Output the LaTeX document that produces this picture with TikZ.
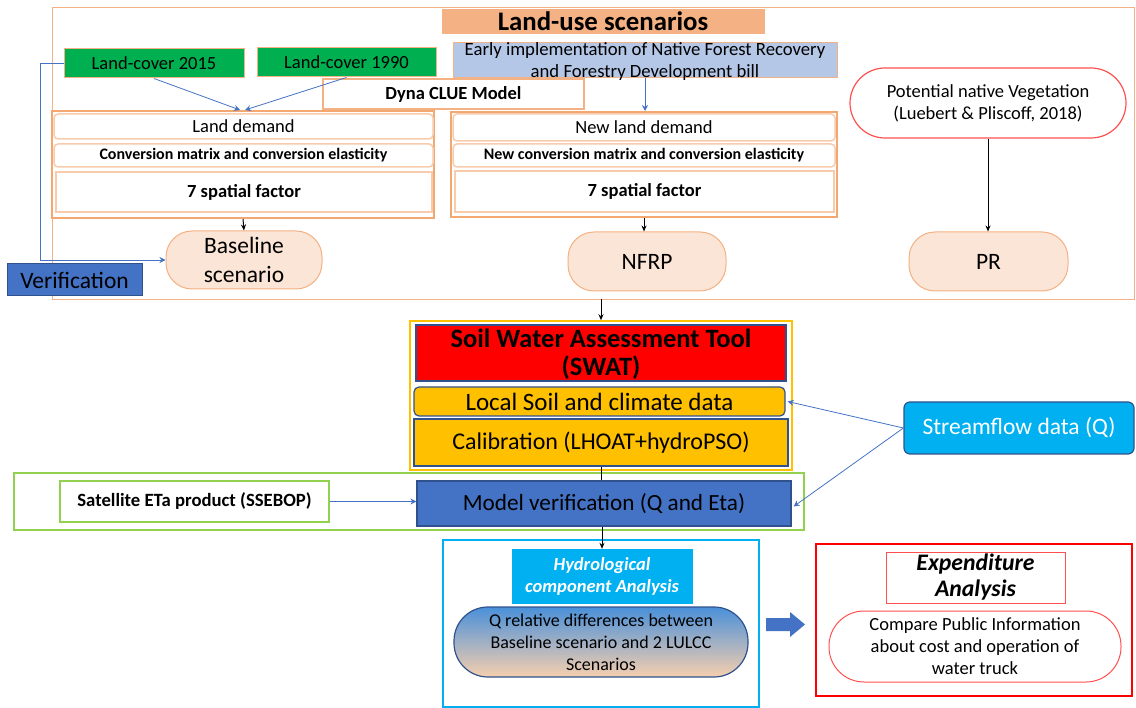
\documentclass[tikz,border=0pt]{standalone}
\usepackage{fontspec}
\setmainfont{Carlito}
\usetikzlibrary{arrows.meta,calc}
\definecolor{orL}{HTML}{F4B183}
\definecolor{orG}{HTML}{F4A871}
\definecolor{orXL}{HTML}{F8CBAD}
\definecolor{peach}{HTML}{FBE5D6}
\definecolor{grn}{HTML}{00B050}
\definecolor{ltblue}{HTML}{B4C7E7}
\definecolor{blu}{HTML}{4472C4}
\definecolor{dkblu}{HTML}{2F528F}
\definecolor{cyn}{HTML}{00B0F0}
\definecolor{gold}{HTML}{FFC000}
\definecolor{lime}{HTML}{92D050}
\definecolor{rd}{HTML}{FF0000}
\definecolor{redL}{HTML}{FF5050}
\definecolor{qtop}{HTML}{4A90D9}
\definecolor{qmid}{HTML}{8ECFE6}
\definecolor{qbot}{HTML}{F6CFAE}
\newcommand\fz[2]{\fontsize{#1}{#2}\selectfont}
\begin{document}
\begin{tikzpicture}[x=1pt,y=-1pt,
  bx/.style={draw, inner sep=0pt, align=center},
  grpbox/.style={bx, draw=orG, line width=2pt},
  inbox/.style={bx, draw=orXL, line width=1.5pt, rounded corners=4pt, fill=white},
  scen/.style={bx, draw=orL, line width=1pt, fill=peach, rounded corners=26pt, font=\fz{23.5}{29}},
  lcbox/.style={bx, draw=orL, line width=1pt, fill=grn, font=\fz{18.5}{22}},
  blarr/.style={draw=blu, line width=0.8pt, -{Stealth[length=6pt,width=6pt]}},
  bkarr/.style={draw=black, line width=1pt, -{Stealth[length=6pt,width=5pt]}},
  swbox/.style={bx, draw=dkblu, line width=1.2pt, fill=gold}
]
\useasboundingbox (0,0) rectangle (1136,708);

% ---------- top: land-use scenarios ----------
\node[bx, draw=orL, line width=0.8pt, minimum width=1082, minimum height=292] (outer) at (593,153) {};
\node[bx, draw=orL, fill=orL, minimum width=322, minimum height=24, font=\fz{26.8}{28}\bfseries] (title) at (603,21) {Land-use scenarios};

\node[lcbox, minimum width=180, minimum height=29] (lc15) at (154,63.5) {Land-cover 2015};
\node[lcbox, minimum width=179, minimum height=29] (lc90) at (346.5,62.5) {Land-cover 1990};
\node[bx, draw=orL, line width=1pt, fill=ltblue, minimum width=384, minimum height=35] (early) at (645,60.5) {};
\node[inner sep=0pt, align=center, font=\fz{18.7}{22}] (earlyT) at (645,62) {Early implementation of Native Forest Recovery\\and Forestry Development bill};
\node[bx, draw=orL, line width=1.5pt, fill=white, minimum width=261, minimum height=30, font=\fz{18.5}{22}\bfseries] (dyna) at (453.5,94) {Dyna CLUE Model};

\node[grpbox, minimum width=382, minimum height=107] (leftgrp) at (243,164.5) {};
\node[inbox, minimum width=379, minimum height=25, font=\fz{18.5}{22}] (ld) at (243.5,126.5) {Land demand};
\node[inbox, minimum width=379, minimum height=23, font=\fz{16}{18}\bfseries] (cm) at (243.5,155.5) {Conversion matrix and conversion elasticity};
\node[bx, draw=orXL, line width=1.5pt, fill=white, minimum width=376, minimum height=40, font=\fz{18.5}{22}\bfseries] (sf) at (244,192) {7 spatial factor};

\node[grpbox, minimum width=386, minimum height=105] (rightgrp) at (644,164.5) {};
\node[inbox, minimum width=382, minimum height=27, font=\fz{18.5}{22}] (nld) at (644,127.5) {New land demand};
\node[inbox, minimum width=382, minimum height=23, font=\fz{16}{18}\bfseries] (ncm) at (644,155.5) {New conversion matrix and conversion elasticity};
\node[bx, draw=orXL, line width=1.5pt, fill=white, minimum width=379, minimum height=41, font=\fz{18.5}{22}\bfseries] (nsf) at (644.5,191.5) {7 spatial factor};

\node[bx, draw=redL, line width=1.2pt, fill=white, rounded corners=35pt, minimum width=276, minimum height=70, font=\fz{18.5}{22}] (pnv) at (988,103) {Potential native Vegetation\\(Luebert \& Pliscoff, 2018)};

\node[scen, minimum width=156, minimum height=58] (base) at (244,260) {Baseline\\scenario};
\node[scen, minimum width=158, minimum height=59] (nfrp) at (647,261.5) {NFRP};
\node[scen, minimum width=159, minimum height=59] (pr) at (988.5,261.5) {PR};

\node[bx, draw=dkblu, line width=1pt, fill=blu, minimum width=135, minimum height=32, font=\fz{23.5}{28}] (verif) at (74.5,280) {Verification};

\draw[blarr] (lc15.south) -- ([xshift=-3pt]leftgrp.north);
\draw[blarr] (lc90.south) -- ([xshift=2pt]leftgrp.north);
\draw[blarr] (lc15.west) -- ++(-23,0) |- (base.west);
\draw[blarr] (early.south) -- (early.south |- rightgrp.north);
\draw[bkarr] (leftgrp.south) -- (base.north);
\draw[bkarr] (rightgrp.south) -- (rightgrp.south |- nfrp.north);
\draw[bkarr] (pnv.south) -- (pnv.south |- pr.north);

% ---------- middle: SWAT ----------
\node[bx, draw=gold, line width=1.5pt, minimum width=382, minimum height=149] (swatc) at (601,395.5) {};
\node[bx, draw=dkblu, line width=1.2pt, fill=rd, minimum width=370, minimum height=56] (swat) at (601,353) {};
\node[inner sep=0pt, align=center, font=\fz{26.5}{28}\bfseries] (swatT) at (601,354) {Soil Water Assessment Tool\\(SWAT)};
\node[swbox, rounded corners=5pt, minimum width=371, minimum height=29, font=\fz{25}{27}] (local) at (599.5,401.5) {Local Soil and climate data};
\node[swbox, minimum width=374, minimum height=47, font=\fz{24}{27}] (calib) at (601,442.5) {Calibration (LHOAT+hydroPSO)};

\node[bx, draw=dkblu, line width=1.2pt, fill=cyn, rounded corners=6pt, minimum width=230, minimum height=52, text=white, font=\fz{23.5}{27}] (stream) at (1019,428) {Streamflow data (Q)};

\node[bx, draw=lime, line width=1.5pt, minimum width=790, minimum height=57] (greenc) at (409,501.5) {};
\node[bx, draw=lime, line width=1.5pt, fill=white, minimum width=269, minimum height=41, font=\fz{18.7}{22}\bfseries] (sat) at (194.5,501.5) {Satellite ETa product (SSEBOP)};
\node[bx, draw=dkblu, line width=1.2pt, fill=blu, minimum width=374, minimum height=45, font=\fz{23.2}{27}] (mv) at (604,503.5) {Model verification (Q and Eta)};

\draw[bkarr] (swatc.north |- outer.south) -- (swatc.north);
\draw[black, line width=1pt] (calib.south) -- (calib.south |- mv.north);
\draw[blarr] (stream.west) -- ([xshift=2pt]local.east);
\draw[blarr] (stream.west) -- ([xshift=2pt,yshift=-3pt]mv.east);
\draw[blarr] (sat.east) -- (sat.east -| mv.west);

% ---------- bottom ----------
\node[bx, draw=cyn, line width=1.5pt, minimum width=316, minimum height=167] (hydc) at (601,623.5) {};
\node[bx, draw=cyn, fill=cyn, minimum width=180, minimum height=54, text=white, font=\fz{18.5}{22}\bfseries\itshape] (hyd) at (602,576) {Hydrological\\component Analysis};
\node[bx, draw=dkblu, line width=1.2pt, rounded corners=34pt, top color=qtop, middle color=qmid, bottom color=qbot, minimum width=294, minimum height=70, font=\fz{18}{22}] (qrel) at (601,642) {Q relative differences between\\Baseline scenario and 2 LULCC\\Scenarios};
\draw[bkarr] (hyd.north |- mv.south) -- (hyd.north);

\node[bx, draw=rd, line width=2pt, minimum width=316, minimum height=152] (redc) at (974,620) {};
\node[bx, draw=redL, line width=1pt, fill=white, minimum width=179, minimum height=51, font=\fz{23.7}{26}\bfseries\itshape] (expn) at (975.5,577.5) {Expenditure\\Analysis};
\node[bx, draw=redL, line width=1pt, fill=white, rounded corners=35pt, minimum width=292, minimum height=71, font=\fz{18.5}{22}] (cmp) at (975,646.5) {Compare Public Information\\about cost and operation of\\water truck};

\coordinate (ba1) at (766,624.5);
\coordinate (ba2) at (805,624.5);
\fill[blu] (ba1) ++(0,-6.5) -- ++(24,0) -- ++(0,-6) -- (ba2) -- ++(-15,12.5) -- ++(0,-6) -- ++(-24,0) -- cycle;
\end{tikzpicture}
\end{document}
